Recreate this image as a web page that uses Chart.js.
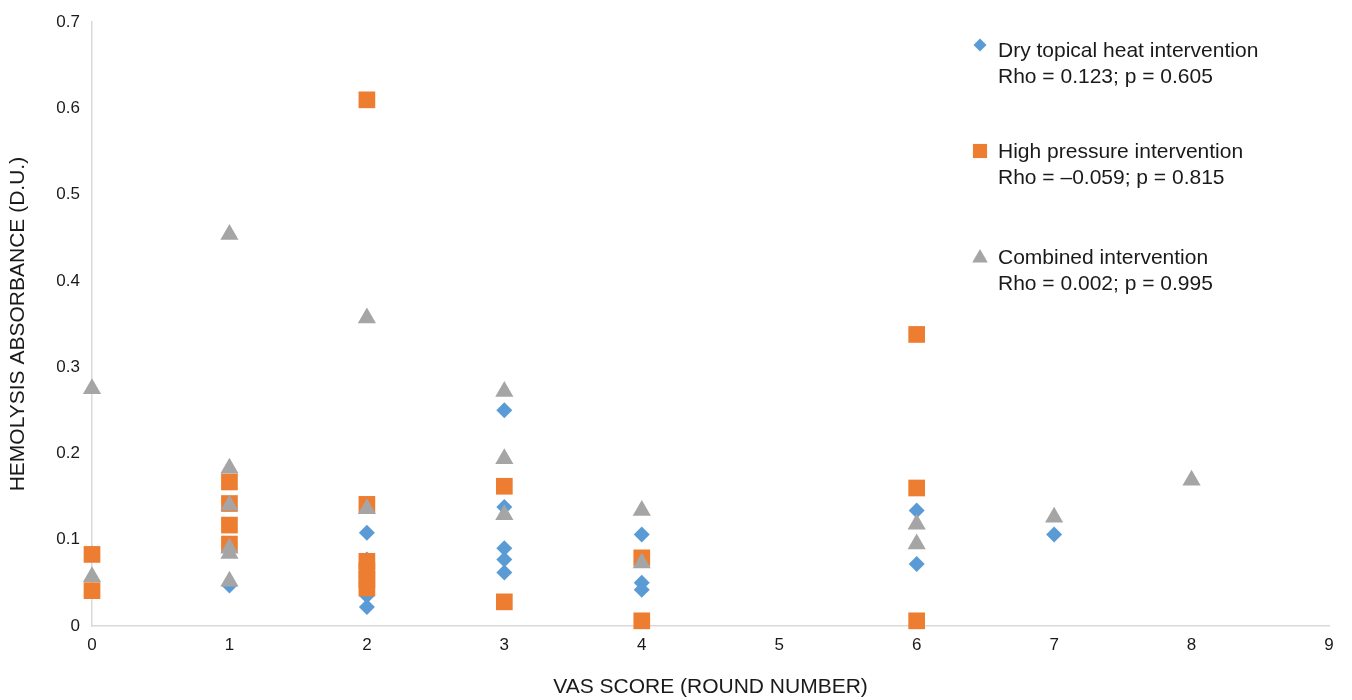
<!DOCTYPE html>
<html>
<head>
<meta charset="utf-8">
<script src="https://cdn.jsdelivr.net/npm/chart.js@4/dist/chart.umd.min.js"></script>
<style>
  html, body { margin: 0; padding: 0; background: #fff; }
  #wrap { position: relative; width: 1352px; height: 700px; }
</style>
</head>
<body>
<div id="wrap"><canvas id="c" width="1352" height="700"></canvas></div>
<script>
// ---- Data ----
const dryX = [0, 1, 2, 2, 2, 2, 3, 3, 3, 3, 3, 4, 4, 4, 6, 6, 7];
const dryY = [0.084, 0.047, 0.108, 0.077, 0.035, 0.022, 0.250, 0.138, 0.090, 0.077, 0.062, 0.106, 0.050, 0.042, 0.134, 0.072, 0.106];

const pressureX = [0, 0, 1, 1, 1, 1, 2, 2, 2, 2, 2, 2, 3, 3, 4, 4, 6, 6, 6];
const pressureY = [0.083, 0.041, 0.167, 0.142, 0.117, 0.095, 0.610, 0.141, 0.075, 0.064, 0.054, 0.044, 0.162, 0.028, 0.079, 0.006, 0.338, 0.160, 0.006];

const combinedX = [0, 0, 1, 1, 1, 1, 1, 1, 2, 2, 3, 3, 3, 4, 4, 6, 6, 7, 8];
const combinedY = [0.275, 0.057, 0.454, 0.183, 0.140, 0.090, 0.084, 0.052, 0.357, 0.136, 0.272, 0.194, 0.129, 0.134, 0.073, 0.118, 0.095, 0.126, 0.169];

const seriesNames = ["Dry topical heat intervention", "High pressure intervention", "Combined intervention"];
const seriesStats = ["Rho = 0.123; p = 0.605", "Rho = \u20130.059; p = 0.815", "Rho = 0.002; p = 0.995"];

const xTicks = [0, 1, 2, 3, 4, 5, 6, 7, 8, 9];
const yTicks = [0, 0.1, 0.2, 0.3, 0.4, 0.5, 0.6, 0.7];

const xTitle = "VAS SCORE (ROUND NUMBER)";
const yTitle = "HEMOLYSIS ABSORBANCE (D.U.)";

const colors = ["#5b9bd5", "#ed7d31", "#a5a5a5"];
const shapes = ["rectRot", "rect", "triangle"];
const radii = [8, 11.8, 10.5];

function pts(xs, ys) { return xs.map((x, i) => ({ x: x, y: ys[i] })); }

const FONT = '"Liberation Sans", Arial, Helvetica, sans-serif';

// Custom legend drawn to the right inside the plot
const legendPlugin = {
  id: 'sideLegend',
  afterDraw(chart) {
    const ctx = chart.ctx;
    const ys = [51, 152, 258];
    const markerYOff = [-6, -1, 0];
    ctx.save();
    for (let i = 0; i < 3; i++) {
      const ds = chart.data.datasets[i];
      ctx.fillStyle = ds.backgroundColor;
      ctx.strokeStyle = ds.borderColor;
      ctx.lineWidth = 0;
      const r = i === 0 ? 6.5 : (i === 1 ? 10 : 9);
      Chart.helpers.drawPoint(ctx, { pointStyle: ds.pointStyle, radius: r, borderWidth: 0, rotation: 0 }, 980, ys[i] + markerYOff[i]);
      ctx.fillStyle = '#1a1a1a';
      ctx.font = '21px ' + FONT;
      ctx.textBaseline = 'middle';
      ctx.textAlign = 'left';
      ctx.fillText(seriesNames[i], 998, ys[i]);
      ctx.fillText(seriesStats[i], 998, ys[i] + 26);
    }
    ctx.restore();
  }
};

const ctx = document.getElementById('c').getContext('2d');
new Chart(ctx, {
  type: 'scatter',
  data: {
    datasets: [
      { label: seriesNames[0], data: pts(dryX, dryY), pointStyle: shapes[0], pointRadius: radii[0], pointHoverRadius: radii[0],
        backgroundColor: colors[0], borderColor: colors[0], borderWidth: 0, order: 2, clip: false },
      { label: seriesNames[1], data: pts(pressureX, pressureY), pointStyle: shapes[1], pointRadius: radii[1], pointHoverRadius: radii[1],
        backgroundColor: colors[1], borderColor: colors[1], borderWidth: 0, order: 1, clip: false },
      { label: seriesNames[2], data: pts(combinedX, combinedY), pointStyle: shapes[2], pointRadius: radii[2], pointHoverRadius: radii[2],
        backgroundColor: colors[2], borderColor: colors[2], borderWidth: 0, order: 0, clip: false }
    ]
  },
  options: {
    responsive: false,
    animation: false,
    events: [],
    layout: { padding: { top: 17, right: 23, left: 0, bottom: 0 } },
    plugins: { legend: { display: false }, tooltip: { enabled: false } },
    scales: {
      x: {
        type: 'linear',
        min: 0, max: 9,
        afterBuildTicks(scale) { scale.ticks = xTicks.map(v => ({ value: v })); },
        afterFit(scale) { scale.height = 74; },
        grid: { display: false, drawTicks: false },
        border: { display: true, color: '#d9d9d9', width: 1.5 },
        ticks: { color: '#1a1a1a', font: { family: FONT, size: 17 }, padding: 9, maxRotation: 0 },
        title: { display: true, text: xTitle, color: '#1a1a1a', font: { family: FONT, size: 21 }, padding: { top: 0, bottom: 0 } }
      },
      y: {
        type: 'linear',
        min: 0, max: 0.7,
        afterBuildTicks(scale) { scale.ticks = yTicks.map(v => ({ value: v })); },
        afterFit(scale) { scale.width = 92; },
        grid: { display: false, drawTicks: false },
        border: { display: true, color: '#d9d9d9', width: 1.5 },
        ticks: { color: '#1a1a1a', font: { family: FONT, size: 17 }, padding: 12,
                 callback: (v) => String(Math.round(v * 10) / 10) },
        title: { display: true, text: yTitle, color: '#1a1a1a', font: { family: FONT, size: 21 }, padding: { top: 6, bottom: 0 } }
      }
    }
  },
  plugins: [legendPlugin]
});
</script>
</body>
</html>
